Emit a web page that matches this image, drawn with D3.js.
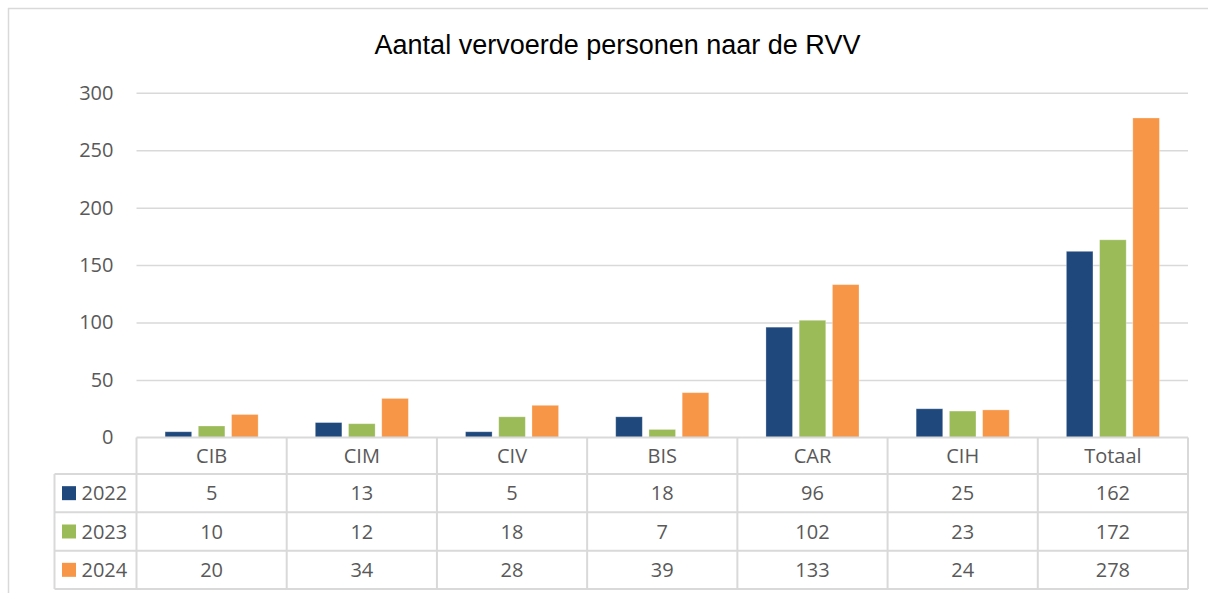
<!DOCTYPE html>
<html>
<head>
<meta charset="utf-8">
<script src="https://cdn.jsdelivr.net/npm/d3@7"></script>
<style>
  body { margin: 0; background: #fff; }
  svg { display: block; }
</style>
</head>
<body>
<svg width="1208" height="593"></svg>
<script>
const title = "Aantal vervoerde personen naar de RVV";
const categories = ["CIB", "CIM", "CIV", "BIS", "CAR", "CIH", "Totaal"];
const years = ["2022", "2023", "2024"];
const v2022 = [5, 13, 5, 18, 96, 25, 162];
const v2023 = [10, 12, 18, 7, 102, 23, 172];
const v2024 = [20, 34, 28, 39, 133, 24, 278];
const yTicks = [0, 50, 100, 150, 200, 250, 300];
const colors = ["#1f497d", "#9bbb59", "#f79646"];

const values = [v2022, v2023, v2024];
const gridColor = "#d9d9d9";
const textColor = "#595959";
const font = "'Open Sans', sans-serif";

const svg = d3.select("svg");

// outer frame
svg.append("path")
  .attr("d", "M8.5,593 V8.5 H1208")
  .attr("fill", "none")
  .attr("stroke", gridColor)
  .attr("stroke-width", 1.5);

svg.append("text")
  .attr("x", 617.5)
  .attr("y", 54)
  .attr("text-anchor", "middle")
  .attr("font-family", "'Liberation Sans', Arial, sans-serif")
  .attr("font-size", 27)
  .attr("fill", "#000")
  .text(title);

const left = 136.5, right = 1188;
const x = d3.scaleBand().domain(categories).range([left, right]);
const xs = d3.scaleBand().domain(years).range([0, x.bandwidth()])
  .paddingInner(0.2).paddingOuter(0.86);
const y = d3.scaleLinear().domain([0, 300]).range([437.5, 92.7]);

// y axis + gridlines
const yAxis = svg.append("g")
  .attr("transform", `translate(${left},0)`)
  .call(d3.axisLeft(y).tickValues(yTicks).tickSize(-(right - left)).tickPadding(23));
yAxis.select(".domain").remove();
yAxis.selectAll(".tick line")
  .attr("stroke", gridColor)
  .attr("stroke-width", 1.5)
  .filter(d => d === 0).remove();
yAxis.selectAll(".tick text")
  .attr("font-family", font)
  .attr("font-size", 20)
  .attr("fill", textColor);

// bars
const series = years.map((yr, i) => ({year: yr, color: colors[i], vals: values[i]}));
svg.append("g").selectAll("g")
  .data(series)
  .join("g")
    .attr("fill", d => d.color)
  .selectAll("rect")
  .data(d => d.vals.map((v, j) => ({year: d.year, cat: categories[j], v})))
  .join("rect")
    .attr("x", d => x(d.cat) + xs(d.year))
    .attr("y", d => y(d.v))
    .attr("width", xs.bandwidth())
    .attr("height", d => y(0) - y(d.v))
    .attr("stroke", "#fff")
    .attr("stroke-opacity", 0.35)
    .attr("stroke-width", 0.8);

// data table
const headTop = 437.5, headBottom = 474;
const tableLeft = 54.5, tableBottom = 589;
const row = d3.scaleBand().domain(years).range([headBottom, tableBottom]);
const tbl = svg.append("g")
  .attr("stroke", gridColor)
  .attr("stroke-width", 2)
  .attr("fill", "none");

tbl.append("line").attr("x1", left).attr("x2", right).attr("y1", headTop).attr("y2", headTop);
[headBottom, ...years.map(yr => row(yr) + row.bandwidth())].forEach(yy => {
  tbl.append("line").attr("x1", tableLeft).attr("x2", right).attr("y1", yy).attr("y2", yy);
});
tbl.append("line").attr("x1", tableLeft).attr("x2", tableLeft).attr("y1", headBottom).attr("y2", tableBottom);
[...categories.map(c => x(c)), right].forEach(xx => {
  tbl.append("line").attr("x1", xx).attr("x2", xx).attr("y1", headTop).attr("y2", tableBottom);
});

const txt = svg.append("g")
  .attr("font-family", font)
  .attr("font-size", 20)
  .attr("fill", textColor)
  .attr("text-anchor", "middle");

txt.selectAll(".cat")
  .data(categories)
  .join("text")
    .attr("x", d => x(d) + x.bandwidth() / 2)
    .attr("y", (headTop + headBottom) / 2)
    .attr("dy", "0.35em")
    .text(d => d);

series.forEach(s => {
  const cy = row(s.year) + row.bandwidth() / 2;
  txt.append("g").selectAll("text")
    .data(s.vals)
    .join("text")
      .attr("x", (d, j) => x(categories[j]) + x.bandwidth() / 2)
      .attr("y", cy)
      .attr("dy", "0.35em")
      .text(d => d);
  svg.append("rect")
    .attr("x", 62)
    .attr("y", cy - 7)
    .attr("width", 14)
    .attr("height", 14)
    .attr("fill", s.color);
  svg.append("text")
    .attr("x", 81.5)
    .attr("y", cy)
    .attr("dy", "0.35em")
    .attr("font-family", font)
    .attr("font-size", 20)
    .attr("fill", textColor)
    .text(s.year);
});
</script>
</body>
</html>
